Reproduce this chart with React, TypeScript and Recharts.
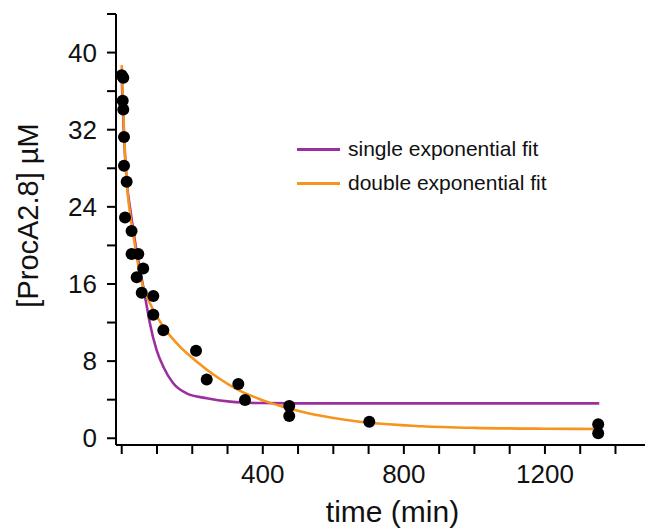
import { ComposedChart, Scatter, Line, XAxis, YAxis, Label } from 'recharts';

// measured points
const pointTimes = [0, 4.5, 2.8, 4.5, 6.5, 6.5, 14, 9.4, 28, 28, 47, 42.5, 61, 56.7, 89.6, 89.6, 118, 210.7, 241, 330.6, 349.6, 475, 475, 702, 1351, 1351];
const pointConc = [37.65, 37.4, 35.0, 34.1, 31.25, 28.25, 26.6, 22.9, 21.5, 19.1, 19.1, 16.7, 17.6, 15.1, 14.75, 12.8, 11.2, 9.08, 6.1, 5.63, 3.97, 3.35, 2.3, 1.72, 1.45, 0.52];

// single exponential fit
const singleTimes = [0, 5, 14, 26, 40, 60, 73, 80, 99, 118, 146, 184, 241, 307, 392, 500, 700, 1000, 1354];
const singleConc = [37.5, 32.5, 26.8, 23.3, 19.9, 15.9, 13.3, 11.9, 9.15, 7.42, 5.7, 4.66, 4.15, 3.8, 3.65, 3.62, 3.62, 3.62, 3.62];

// double exponential fit
const doubleTimes = [0, 4, 8, 12, 18, 24, 38, 54, 66, 94, 118, 165, 213, 269, 326, 392, 411, 450, 505, 600, 702, 850, 1000, 1200, 1354];
const doubleConc = [38.7, 34.5, 30.5, 27.8, 25.0, 23.2, 19.9, 16.6, 15.2, 13.0, 11.57, 9.5, 7.94, 6.38, 5.1, 4.05, 3.8, 3.35, 2.8, 2.1, 1.6, 1.25, 1.08, 0.99, 0.96];

const xTicks = [0, 100, 200, 300, 400, 500, 600, 700, 800, 900, 1000, 1100, 1200, 1300, 1400];
const yTicks = [0, 4, 8, 12, 16, 20, 24, 28, 32, 36, 40, 44];

const points = pointTimes.map((t, i) => ({ t, c: pointConc[i] }));
const single = singleTimes.map((t, i) => ({ t, c: singleConc[i] }));
const double = doubleTimes.map((t, i) => ({ t, c: doubleConc[i] }));

const font = '"Liberation Sans", Arial, sans-serif';
const PURPLE = '#9B2FA0';
const ORANGE = '#F7941D';

const legendItems = [
  { name: 'single exponential fit', color: PURPLE },
  { name: 'double exponential fit', color: ORANGE },
];

export default function App() {
  return (
    <div style={{ position: 'absolute', left: 0, top: 0, width: 645, height: 529, background: '#fff' }}>
      <ComposedChart width={645} height={529} margin={{ top: 14, right: 0, bottom: 0, left: 0 }}>
        <XAxis
          dataKey="t"
          type="number"
          domain={[-16.2, 1483.7]}
          allowDataOverflow
          ticks={xTicks}
          interval={0}
          tickFormatter={(v: number) => (v > 0 && v % 400 === 0 ? String(v) : '')}
          height={84}
          tickSize={9}
          tickMargin={11}
          axisLine={{ stroke: '#000', strokeWidth: 2 }}
          tickLine={{ stroke: '#000', strokeWidth: 2 }}
          tick={{ fill: '#111', fontSize: 26, fontFamily: font }}
        >
          <Label value="time (min)" position="insideBottom" offset={7} dx={12} style={{ fill: '#111', fontSize: 30, fontFamily: font }} />
        </XAxis>
        <YAxis
          type="number"
          domain={[-0.7, 44]}
          allowDataOverflow
          ticks={yTicks}
          interval={0}
          tickFormatter={(v: number) => (v % 8 === 0 ? String(v) : '')}
          width={116}
          tickSize={9}
          tickMargin={10}
          axisLine={{ stroke: '#000', strokeWidth: 2 }}
          tickLine={{ stroke: '#000', strokeWidth: 2 }}
          tick={{ fill: '#111', fontSize: 26, fontFamily: font }}
        >
          <Label value="[ProcA2.8] µM" angle={-90} position="insideLeft" offset={28} dy={-14} style={{ textAnchor: 'middle', fill: '#111', fontSize: 29, fontFamily: font }} />
        </YAxis>
        <Scatter
          data={points}
          dataKey="c"
          isAnimationActive={false}
          legendType="none"
          shape={(p: any) => <circle cx={p.cx} cy={p.cy} r={6} fill="#000" />}
        />
        <Line data={single} dataKey="c" type="monotone" stroke={PURPLE} strokeWidth={2.6} dot={false} isAnimationActive={false} />
        <Line data={double} dataKey="c" type="monotone" stroke={ORANGE} strokeWidth={2.6} dot={false} isAnimationActive={false} />
      </ComposedChart>
      <div style={{ position: 'absolute', left: 297, top: 132, fontFamily: font, fontSize: 21, color: '#111' }}>
        {legendItems.map((e) => (
          <div key={e.name} style={{ display: 'flex', alignItems: 'center', height: 34, whiteSpace: 'nowrap' }}>
            <div style={{ width: 43, height: 3, background: e.color, marginRight: 8 }} />
            <span>{e.name}</span>
          </div>
        ))}
      </div>
    </div>
  );
}
